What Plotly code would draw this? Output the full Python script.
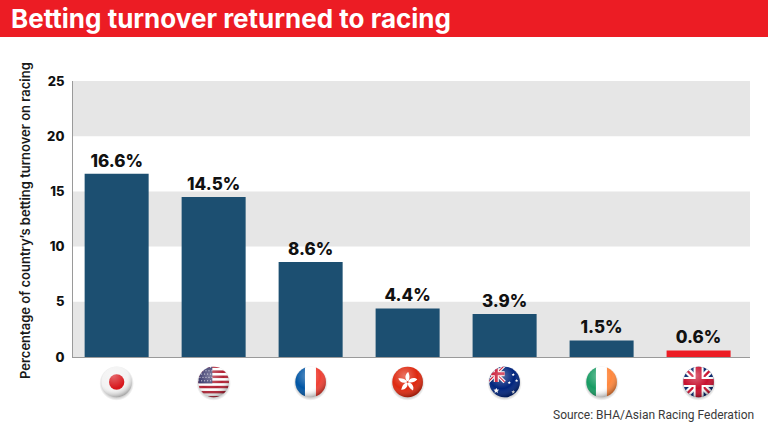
import base64
import math
import plotly.graph_objects as go

# ---- data ----
countries = ["Japan", "USA", "France", "Hong Kong", "Australia", "Ireland", "UK"]
turnover_pct = [16.6, 14.5, 8.6, 4.4, 3.9, 1.5, 0.6]
bar_labels = ["16.6%", "14.5%", "8.6%", "4.4%", "3.9%", "1.5%", "0.6%"]
y_ticks = [0, 5, 10, 15, 20, 25]
title_text = "Betting turnover returned to racing"
y_title = "Percentage of country\u2019s betting turnover on racing"
source_text = "Source: BHA/Asian Racing Federation"

# ---- geometry / style ----
W, H = 768, 432
ML, MR, MT, MB = 73, 18, 81, 75
PW, PH = W - ML - MR, H - MT - MB
NAVY = "#1c4f71"
RED = "#ec1c24"
BAND = "#e6e6e6"
FLAG_PX = 40


def px_x(p):
    return (p - ML) / PW


def px_y(p):
    return (H - MB - p) / PH


def union_jack():
    return (
        '<rect x="0" y="0" width="100" height="100" fill="#012169"/>'
        '<path d="M0,0 L100,100 M100,0 L0,100" stroke="#fff" stroke-width="20"/>'
        '<path d="M0,0 L100,100 M100,0 L0,100" stroke="#c8102e" stroke-width="7"/>'
        '<path d="M50,0 V100 M0,50 H100" stroke="#fff" stroke-width="30"/>'
        '<path d="M50,0 V100 M0,50 H100" stroke="#c8102e" stroke-width="18"/>'
    )


def star(cx, cy, r):
    pts = []
    for k in range(10):
        ang = -math.pi / 2 + k * math.pi / 5
        rr = r if k % 2 == 0 else r * 0.45
        pts.append(f"{cx + rr * math.cos(ang):.1f},{cy + rr * math.sin(ang):.1f}")
    return f'<polygon points="{" ".join(pts)}" fill="#fff"/>'


def flag_body(name):
    if name == "Japan":
        return '<rect width="100" height="100" fill="#f3f3f3"/><circle cx="50" cy="50" r="23" fill="#d7141a"/>'
    if name == "USA":
        s = ""
        for i in range(13):
            c = "#b22234" if i % 2 == 0 else "#ffffff"
            s += f'<rect x="0" y="{i*100/13:.2f}" width="100" height="{100/13+0.3:.2f}" fill="{c}"/>'
        s += '<rect x="0" y="0" width="46" height="54" fill="#3c3b6e"/>'
        for r in range(5):
            for c in range(5):
                s += f'<circle cx="{5 + c*9 + (r%2)*4}" cy="{6 + r*10}" r="1.6" fill="#fff"/>'
        return s
    if name == "France":
        return ('<rect x="0" width="34" height="100" fill="#0055a4"/>'
                '<rect x="33" width="34" height="100" fill="#ffffff"/>'
                '<rect x="66" width="34" height="100" fill="#ef4135"/>')
    if name == "Hong Kong":
        s = '<rect width="100" height="100" fill="#de2910"/>'
        for k in range(5):
            s += (f'<path d="M50,50 C40,40 42,26 52,20 C56,30 58,40 50,50 Z" fill="#fff" '
                  f'transform="rotate({k*72} 50 50)"/>')
        s += '<circle cx="50" cy="50" r="3" fill="#de2910"/>'
        return s
    if name == "Australia":
        s = '<rect width="100" height="100" fill="#00247d"/>'
        s += '<g transform="scale(0.5)">' + union_jack() + '</g>'
        s += star(25, 76, 9) + star(76, 28, 5) + star(64, 52, 5) + star(86, 46, 5) + star(76, 80, 6)
        return s
    if name == "Ireland":
        return ('<rect x="0" width="34" height="100" fill="#169b62"/>'
                '<rect x="33" width="34" height="100" fill="#ffffff"/>'
                '<rect x="66" width="34" height="100" fill="#ff883e"/>')
    return union_jack()


def flag_uri(name):
    svg = (
        '<svg xmlns="http://www.w3.org/2000/svg" width="120" height="120" viewBox="-10 -10 120 120">'
        '<defs>'
        '<clipPath id="c"><circle cx="50" cy="50" r="46"/></clipPath>'
        '<radialGradient id="g" cx="40%" cy="30%" r="70%">'
        '<stop offset="0" stop-color="#fff" stop-opacity="0.35"/>'
        '<stop offset="0.6" stop-color="#fff" stop-opacity="0"/>'
        '<stop offset="1" stop-color="#000" stop-opacity="0.3"/>'
        '</radialGradient>'
        '<radialGradient id="sh" cx="50%" cy="50%" r="50%">'
        '<stop offset="0.8" stop-color="#000" stop-opacity="0.22"/>'
        '<stop offset="1" stop-color="#000" stop-opacity="0"/>'
        '</radialGradient>'
        '</defs>'
        '<circle cx="50" cy="54" r="52" fill="url(#sh)"/>'
        f'<g clip-path="url(#c)">{flag_body(name)}</g>'
        '<circle cx="50" cy="50" r="46" fill="url(#g)"/>'
        '</svg>'
    )
    return "data:image/svg+xml;base64," + base64.b64encode(svg.encode()).decode()


bar_colors = [RED if c == "UK" else NAVY for c in countries]

fig = go.Figure(
    go.Bar(
        x=countries,
        y=turnover_pct,
        marker=dict(color=bar_colors, line=dict(width=0)),
        text=bar_labels,
        textposition="outside",
        textfont=dict(family="Inter", size=17, color="#111111", weight=800),
        cliponaxis=False,
        hoverinfo="skip",
    )
)

# alternating grey bands
shapes = []
for lo in y_ticks[:-1]:
    if (lo // 5) % 2 == 0:
        shapes.append(dict(type="rect", xref="paper", yref="y", x0=0, x1=1, y0=lo, y1=lo + 5,
                           fillcolor=BAND, line=dict(width=0), layer="below"))
# red title banner
shapes.append(dict(type="rect", xref="paper", yref="paper", x0=px_x(-2), x1=px_x(W + 2),
                   y0=px_y(37), y1=px_y(-2), fillcolor=RED, line=dict(width=0), layer="below"))

images = []
for i, c in enumerate(countries):
    images.append(dict(source=flag_uri(c), xref="x", yref="paper", x=i, y=px_y(382),
                       sizex=FLAG_PX / 97, sizey=FLAG_PX / PH, xanchor="center", yanchor="middle",
                       sizing="contain", layer="above"))

annotations = [
    dict(text=f"<b>{title_text}</b>", xref="paper", yref="paper", x=px_x(9), y=px_y(19),
         xanchor="left", yanchor="middle", showarrow=False,
         font=dict(family="Inter", size=26, color="#ffffff", weight=800)),
    dict(text=y_title, xref="paper", yref="paper", x=px_x(25), y=px_y(221),
         xanchor="center", yanchor="middle", textangle=-90, showarrow=False,
         font=dict(family="Inter", size=13, color="#1a1a1a", weight=600)),
    dict(text=source_text, xref="paper", yref="paper", x=px_x(756), y=px_y(415),
         xanchor="right", yanchor="middle", showarrow=False,
         font=dict(family="Roboto", size=12, color="#3a3a3a", weight=400)),
]

fig.update_layout(
    width=W, height=H,
    margin=dict(l=ML, r=MR, t=MT, b=MB, pad=0),
    paper_bgcolor="#ffffff", plot_bgcolor="#ffffff",
    bargap=0.34,
    showlegend=False,
    shapes=shapes,
    images=images,
    annotations=annotations,
    xaxis=dict(range=[-0.45, 6.53], showticklabels=False, ticks="", showgrid=False,
               showline=True, linecolor="#9a9a9a", linewidth=1, zeroline=False, fixedrange=True),
    yaxis=dict(range=[0, 25], tickvals=y_ticks, ticktext=[str(v) for v in y_ticks],
               ticks="", ticklen=0, showgrid=False, zeroline=False,
               showline=True, linecolor="#9a9a9a", linewidth=1,
               tickfont=dict(family="Inter", size=13, color="#111111", weight=800),
               ticklabelstandoff=5, fixedrange=True),
)

fig.write_html(
    "out.html",
    config={"displayModeBar": False},
    post_script="document.body.style.margin='0';document.body.style.overflow='hidden';",
)
